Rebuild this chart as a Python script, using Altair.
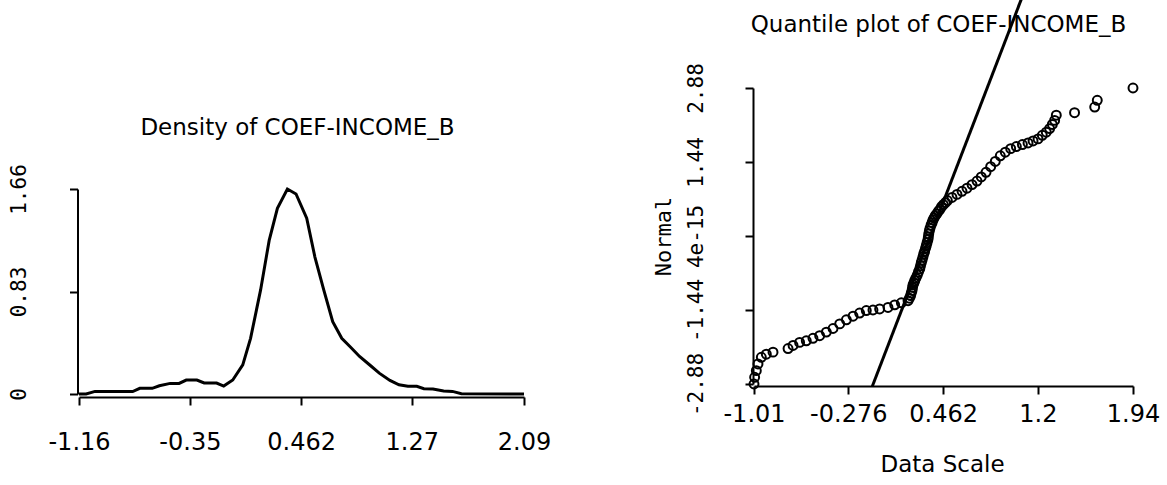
import altair as alt
import pandas as pd

# ---------------- Density panel data ----------------
dens_x = [-1.16, -1.108, -1.043, -0.768, -0.716, -0.625, -0.573, -0.494, -0.429, -0.377,
          -0.299, -0.246, -0.155, -0.103, -0.037, 0.036, 0.093, 0.166, 0.229, 0.289,
          0.362, 0.425, 0.503, 0.563, 0.628, 0.693, 0.759, 0.824, 0.889, 0.968,
          1.033, 1.111, 1.177, 1.242, 1.307, 1.359, 1.425, 1.503, 1.568, 1.633, 2.09]
dens_y = [0.0, 0.0, 0.021, 0.02, 0.046, 0.046, 0.067, 0.086, 0.086, 0.113,
          0.113, 0.089, 0.089, 0.064, 0.113, 0.236, 0.451, 0.841, 1.244, 1.504,
          1.66, 1.62, 1.424, 1.109, 0.841, 0.586, 0.451, 0.379, 0.304, 0.231,
          0.169, 0.110, 0.075, 0.062, 0.062, 0.043, 0.040, 0.024, 0.021, 0.003, 0.0]
dens_xticks = [-1.16, -0.35, 0.462, 1.27, 2.09]
dens_yticks = [0, 0.83, 1.66]

# ---------------- Quantile panel data ----------------
qq_data = [-1.01, -1.005, -0.992, -0.979, -0.953, -0.914, -0.862, -0.745, -0.706, -0.655,
           -0.603, -0.551, -0.499, -0.447, -0.395, -0.343, -0.291, -0.239, -0.188, -0.136,
           -0.084, -0.032, 0.033, 0.085, 0.137, 0.189, 0.200, 0.209, 0.214, 0.220,
           0.224, 0.228, 0.235, 0.241, 0.250, 0.261, 0.270, 0.280, 0.286, 0.292,
           0.298, 0.305, 0.311, 0.318, 0.325, 0.331, 0.337, 0.344, 0.347, 0.350,
           0.355, 0.360, 0.368, 0.376, 0.383, 0.391, 0.400, 0.412, 0.425, 0.438,
           0.450, 0.464, 0.480, 0.495, 0.531, 0.570, 0.609, 0.648, 0.687, 0.726,
           0.759, 0.796, 0.832, 0.868, 0.907, 0.946, 0.988, 1.032, 1.079, 1.123,
           1.162, 1.201, 1.234, 1.265, 1.291, 1.312, 1.330, 1.343, 1.485, 1.642,
           1.662, 1.94]
qq_normal = [-2.88, -2.75, -2.62, -2.49, -2.36, -2.30, -2.26, -2.19, -2.13, -2.07,
             -2.04, -1.99, -1.94, -1.87, -1.80, -1.71, -1.63, -1.56, -1.50, -1.45,
             -1.44, -1.42, -1.39, -1.34, -1.30, -1.26, -1.21, -1.16, -1.11, -1.06,
             -1.00, -0.95, -0.91, -0.87, -0.82, -0.76, -0.70, -0.64, -0.58, -0.52,
             -0.47, -0.41, -0.35, -0.30, -0.24, -0.185, -0.13, -0.07, -0.02, 0.04,
             0.10, 0.15, 0.21, 0.26, 0.31, 0.35, 0.39, 0.43, 0.48, 0.52,
             0.57, 0.61, 0.65, 0.69, 0.75, 0.81, 0.87, 0.93, 1.00, 1.07,
             1.15, 1.24, 1.35, 1.45, 1.56, 1.63, 1.70, 1.74, 1.78, 1.81,
             1.85, 1.89, 1.96, 2.02, 2.09, 2.17, 2.25, 2.35, 2.40, 2.51,
             2.64, 2.88]
qq_line_x = [-0.089, 1.071]
qq_line_y = [-2.925, 4.61]
qq_xticks = [-1.01, -0.276, 0.462, 1.2, 1.94]
qq_yticks = [-2.88, -1.44, 4e-15, 1.44, 2.88]

LABEL_FONT = "DejaVu Sans"
MONO_FONT = "DejaVu Sans Mono"

dens_df = pd.DataFrame({"x": dens_x, "y": dens_y})
qq_df = pd.DataFrame({"x": qq_data, "y": qq_normal})
line_df = pd.DataFrame({"x": qq_line_x, "y": qq_line_y})

axis_common = dict(grid=False, domainColor="black", domainWidth=2, tickColor="black",
                   tickWidth=2, tickSize=8, labelColor="black", labelExpr="'' + datum.value",
                   labelOverlap=False, labelFlush=False)

left = alt.Chart(dens_df).mark_line(color="black", strokeWidth=3).encode(
    x=alt.X("x:Q",
            scale=alt.Scale(domain=[-1.16, 2.09], nice=False, zero=False),
            axis=alt.Axis(values=dens_xticks, title=None, labelFont=LABEL_FONT,
                          labelFontSize=24, labelPadding=25, offset=0, **axis_common)),
    y=alt.Y("y:Q",
            scale=alt.Scale(domain=[0, 1.66], range=[306, 101], nice=False, zero=False),
            axis=alt.Axis(values=dens_yticks, title=None, labelFont=MONO_FONT,
                          labelFontSize=21, labelAngle=270, labelAlign="center",
                          labelBaseline="middle", labelPadding=50, offset=1.5, **axis_common)),
).properties(
    width=445, height=309,
    title=alt.TitleParams("Density of COEF-INCOME_B", font=LABEL_FONT, fontSize=23,
                          fontWeight="normal", color="black", anchor="middle",
                          baseline="middle", offset=0, dx=-4, dy=63),
)

pts = alt.Chart(qq_df).mark_point(shape="circle", filled=False, color="black",
                                  strokeWidth=2, size=80, opacity=1).encode(
    x=alt.X("x:Q",
            scale=alt.Scale(domain=[-1.01, 1.94], nice=False, zero=False),
            axis=alt.Axis(values=qq_xticks, title="Data Scale", labelFont=LABEL_FONT,
                          labelFontSize=24, labelPadding=8, offset=2,
                          titleFont=LABEL_FONT, titleFontSize=23, titleFontWeight="normal",
                          titleColor="black", titleX=188, titleY=78, titleAlign="center",
                          titleBaseline="middle", **axis_common)),
    y=alt.Y("y:Q",
            scale=alt.Scale(domain=[-2.88, 2.88], nice=False, zero=False),
            axis=alt.Axis(values=qq_yticks, title="Normal", labelFont=MONO_FONT,
                          labelFontSize=21, labelAngle=270, labelAlign="center",
                          labelBaseline="middle", labelPadding=49, offset=1,
                          titleFont=MONO_FONT, titleFontSize=22, titleFontWeight="normal",
                          titleColor="black", titleAngle=270, titleX=-90, titleY=148,
                          titleAlign="center", titleBaseline="middle", **axis_common)),
)

qline = alt.Chart(line_df).mark_line(color="black", strokeWidth=3).encode(
    x="x:Q", y="y:Q"
)

right = alt.layer(pts, qline).properties(
    width=379, height=296,
    title=alt.TitleParams("Quantile plot of COEF-INCOME_B", font=LABEL_FONT, fontSize=23,
                          fontWeight="normal", color="black", anchor="middle",
                          baseline="middle", offset=0, dx=-5, dy=55),
)

chart = alt.hconcat(left, right, spacing=230, bounds="flush").properties(
    padding={"left": 8, "top": -7, "right": 0, "bottom": 0},
    background="white",
).configure_view(stroke=None)

chart.save("out.html", embed_options={"renderer": "svg", "actions": False})
